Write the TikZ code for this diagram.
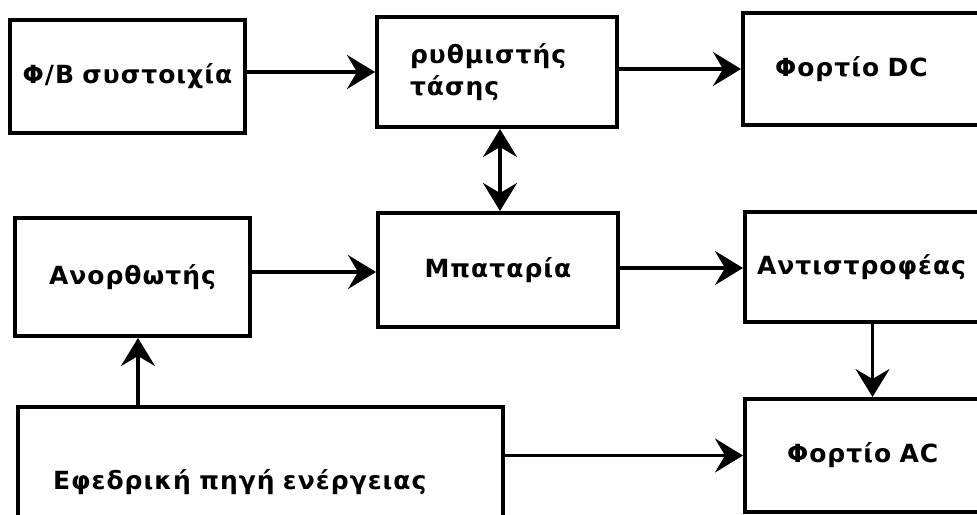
\documentclass[tikz,border=0pt]{standalone}
\usepackage{fontspec}
\newfontfamily\lbfont{DejaVu Sans}[LetterSpace=4]
\usetikzlibrary{arrows.meta}
\tikzset{
  box/.style={draw, line width=4pt, inner ysep=0pt, align=left,
    font=\lbfont\bfseries\fontsize{25}{32}\selectfont},
  arr/.style={line width=3.4pt, -{Stealth[length=28pt,width=34pt,inset=10pt]}},
  arrboth/.style={line width=3.4pt, {Stealth[length=28pt,width=34pt,inset=10pt]}-{Stealth[length=28pt,width=34pt,inset=10pt]}}
}
\begin{document}
\begin{tikzpicture}[x=1pt,y=-1pt]
\useasboundingbox (0,0) rectangle (977,514);
\clip (0,0) rectangle (977,514);
\node[box, align=center, text width=227pt, inner xsep=4pt, minimum height=113pt] (b1) at (127.5,76.5) {Φ/Β~συστοιχία};
\node[box, text width=174pt, inner xsep=33pt, minimum height=110pt] (b2) at (497,72) {ρυθμιστής\\τάσης};
\node[box, text width=193pt, inner xsep=32pt, minimum height=112pt] (b3) at (871.5,69) {Φορτίο~DC};
\node[box, align=center, text width=227pt, inner xsep=4pt, minimum height=118pt] (b4) at (132.5,277) {Ανορθωτής};
\node[box, align=center, text width=232pt, inner xsep=4pt, minimum height=114pt] (b5) at (498,270) {Μπαταρία};
\node[box, text width=231pt, inner xsep=12pt, minimum height=110pt] (b6) at (872.5,267) {Αντιστροφέας};
\node[box, text width=415pt, inner xsep=35pt, minimum height=150pt] (b7) at (260.5,482) {Εφεδρική~πηγή~ενέργειας};
\node[box, text width=171pt, inner xsep=42pt, minimum height=113pt] (b8) at (872.5,455.5) {Φορτίο~AC};
\draw[arr] ([yshift=4.5pt]b1.east) -- ([yshift=4.5pt]b1.east -| b2.west);
\draw[arr] ([yshift=3pt]b2.east) -- ([yshift=3pt]b2.east -| b3.west);
\draw[arr] ([yshift=5pt]b4.east) -- ([yshift=5pt]b4.east -| b5.west);
\draw[arr] ([yshift=2pt]b5.east) -- ([yshift=2pt]b5.east -| b6.west);
\draw[arr] (b7.east |- b8.west) -- (b8.west);
\draw[arrboth] ([xshift=3pt]b2.south) -- ([xshift=3pt]b2.south |- b5.north);
\draw[arr] ([xshift=5.5pt]b7.north -| b4.south) -- ([xshift=5.5pt]b4.south);
\draw[arr] (b6.south) -- (b6.south |- b8.north);
\end{tikzpicture}
\end{document}
